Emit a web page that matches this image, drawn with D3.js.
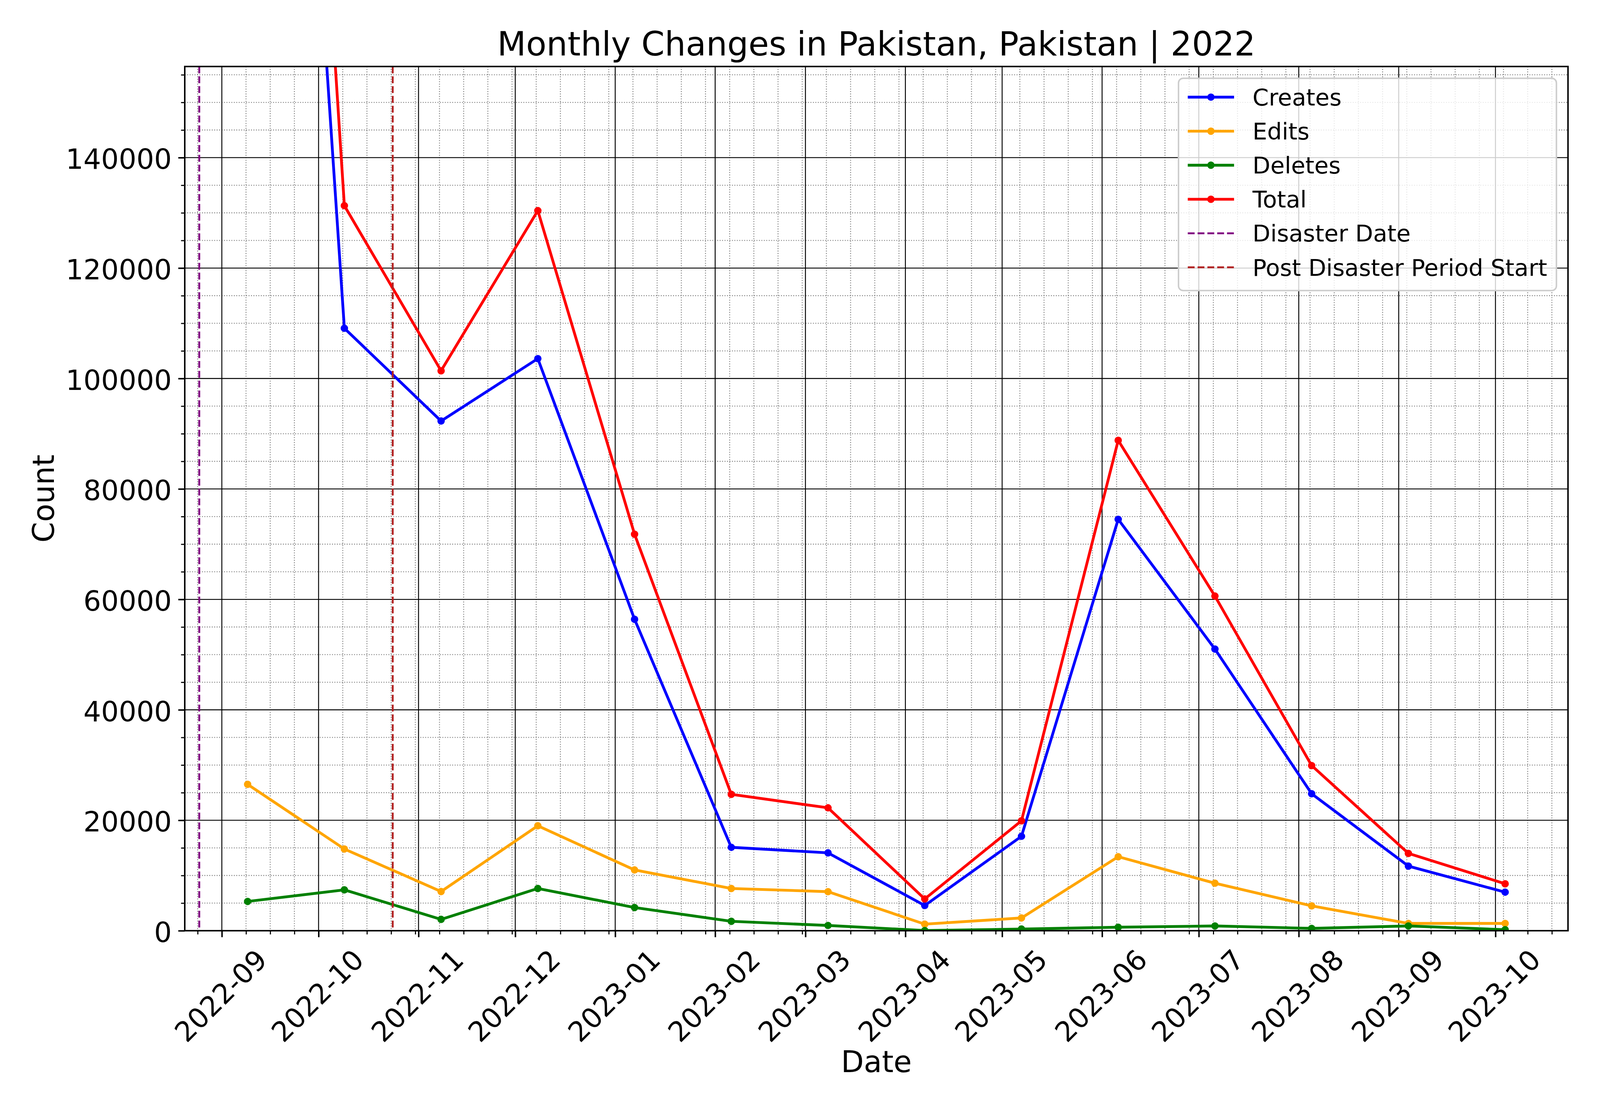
<!DOCTYPE html>
<html>
<head>
<meta charset="utf-8">
<script src="https://cdn.jsdelivr.net/npm/d3@7"></script>
<style>
  html, body { margin: 0; padding: 0; background: #fff; overflow: hidden; width: 100%; height: 100%; }
  #chart { display: block; width: 100vw; height: 100vh; }
  svg text { font-family: 'DejaVu Sans', sans-serif; fill: #000; }
</style>
</head>
<body>
<svg id="chart"></svg>
<script>
// data points, one every 30 days
const dates = ['2022-09-09', '2022-10-09', '2022-11-08', '2022-12-08', '2023-01-07', '2023-02-06', '2023-03-08',
  '2023-04-07', '2023-05-07', '2023-06-06', '2023-07-06', '2023-08-05', '2023-09-04', '2023-10-04'];
const creates = [370000, 109100, 92300, 103600, 56400, 15100, 14100, 4560, 17100, 74500, 51000, 24800, 11700, 6980];
const edits = [26500, 14800, 7100, 19000, 11000, 7650, 7070, 1190, 2310, 13400, 8600, 4500, 1320, 1320];
const deletes = [5300, 7400, 2050, 7650, 4200, 1700, 950, 30, 300, 630, 860, 420, 860, 190];
const totals = [401800, 131300, 101400, 130400, 71800, 24700, 22250, 5750, 19900, 88800, 60600, 29900, 14000, 8500];

const seriesNames = ['Creates', 'Edits', 'Deletes', 'Total'];
const markerNames = ['Disaster Date', 'Post Disaster Period Start'];
const markerDates = ['2022-08-25', '2022-10-24'];

const xTickLabels = ['2022-09', '2022-10', '2022-11', '2022-12', '2023-01', '2023-02', '2023-03',
  '2023-04', '2023-05', '2023-06', '2023-07', '2023-08', '2023-09', '2023-10'];
const yTicks = [0, 20000, 40000, 60000, 80000, 100000, 120000, 140000];
const yMax = 156500;

const titleText = 'Monthly Changes in Pakistan, Pakistan | 2022';

// ---- layout (px, figure is 12x8 in at 350 dpi, 1pt = 350/72 px)
const pt = 350 / 72;
const svgWidth = 4200, svgHeight = 2800;
const margin = { top: 139, right: 84, bottom: 393, left: 485 };
const width = svgWidth - margin.left - margin.right,
  height = svgHeight - margin.top - margin.bottom;

const parseDay = d3.utcParse('%Y-%m-%d');
const parseMonth = d3.utcParse('%Y-%m');

const colors = ['blue', 'orange', 'green', 'red'];
const markerColors = ['purple', 'firebrick'];
const valueLists = [creates, edits, deletes, totals];

const series = seriesNames.map((name, i) => ({
  name: name,
  color: colors[i],
  points: dates.map((d, j) => ({ date: parseDay(d), value: valueLists[i][j] }))
}));

// x domain: data extent plus 5% each side
const t0 = parseDay(dates[0]), t1 = parseDay(dates[dates.length - 1]);
const pad = (t1 - t0) * 0.05;
const x = d3.scaleUtc()
  .domain([new Date(+t0 - pad), new Date(+t1 + pad)])
  .range([0, width]);
const y = d3.scaleLinear().domain([0, yMax]).range([height, 0]);

const majorX = xTickLabels.map(parseMonth);

// minor ticks: quarter of the first major step, as matplotlib's AutoMinorLocator
const minorStep = (majorX[1] - majorX[0]) / 4;
const minorX = [];
const kStart = Math.ceil((x.domain()[0] - majorX[0]) / minorStep);
const kEnd = Math.floor((x.domain()[1] - majorX[0]) / minorStep);
for (let k = kStart; k <= kEnd; k++) {
  const t = new Date(+majorX[0] + k * minorStep);
  if (!majorX.some(m => +m === +t)) minorX.push(t);
}
const yStep = yTicks[1] - yTicks[0];
const minorY = d3.range(yStep / 4, yMax, yStep / 4).filter(v => v % yStep !== 0);

// scale the whole figure into whatever the window gives us
let svg = d3.select('#chart')
  .attr('viewBox', '0 0 ' + svgWidth + ' ' + svgHeight)
  .attr('preserveAspectRatio', 'xMidYMid meet');

svg.append('rect')
  .attr('width', svgWidth)
  .attr('height', svgHeight)
  .attr('fill', '#fff');

svg.append('defs').append('clipPath')
  .attr('id', 'plot-clip')
  .append('rect')
  .attr('width', width)
  .attr('height', height);

const g = svg.append('g')
  .attr('transform', 'translate(' + margin.left + ',' + margin.top + ')');

// grid: minor dotted, major solid
const grid = g.append('g').attr('clip-path', 'url(#plot-clip)');
const minorGrid = { stroke: '#808080', 'stroke-width': 0.5 * pt, 'stroke-dasharray': (0.5 * pt) + ',' + (0.825 * pt) };

grid.selectAll('.minor-x').data(minorX).enter().append('line')
  .attr('x1', d => x(d)).attr('x2', d => x(d))
  .attr('y1', 0).attr('y2', height)
  .attr('stroke', minorGrid.stroke)
  .attr('stroke-width', minorGrid['stroke-width'])
  .attr('stroke-dasharray', minorGrid['stroke-dasharray']);

grid.selectAll('.minor-y').data(minorY).enter().append('line')
  .attr('x1', 0).attr('x2', width)
  .attr('y1', d => y(d)).attr('y2', d => y(d))
  .attr('stroke', minorGrid.stroke)
  .attr('stroke-width', minorGrid['stroke-width'])
  .attr('stroke-dasharray', minorGrid['stroke-dasharray']);

grid.selectAll('.major-x').data(majorX).enter().append('line')
  .attr('x1', d => x(d)).attr('x2', d => x(d))
  .attr('y1', 0).attr('y2', height)
  .attr('stroke', '#000')
  .attr('stroke-width', 0.5 * pt);

grid.selectAll('.major-y').data(yTicks).enter().append('line')
  .attr('x1', 0).attr('x2', width)
  .attr('y1', d => y(d)).attr('y2', d => y(d))
  .attr('stroke', '#000')
  .attr('stroke-width', 0.5 * pt);

// data lines
const plot = g.append('g').attr('clip-path', 'url(#plot-clip)');
const line = d3.line().x(d => x(d.date)).y(d => y(d.value));

series.forEach(s => {
  plot.append('path')
    .datum(s.points)
    .attr('d', line)
    .attr('fill', 'none')
    .attr('stroke', s.color)
    .attr('stroke-width', 1.5 * pt)
    .attr('stroke-linejoin', 'round')
    .attr('stroke-linecap', 'square');

  plot.selectAll(null)
    .data(s.points)
    .enter()
    .append('circle')
    .attr('cx', d => x(d.date))
    .attr('cy', d => y(d.value))
    .attr('r', 2 * pt)
    .attr('fill', s.color);
});

// disaster markers
markerDates.forEach((d, i) => {
  plot.append('line')
    .attr('x1', x(parseDay(d))).attr('x2', x(parseDay(d)))
    .attr('y1', 0).attr('y2', height)
    .attr('stroke', markerColors[i])
    .attr('stroke-width', 1 * pt)
    .attr('stroke-dasharray', (3.7 * pt) + ',' + (1.6 * pt));
});

// axes
const tickFont = 15 * pt;

const xAxis = g.append('g')
  .attr('transform', 'translate(0,' + height + ')')
  .call(d3.axisBottom(x).tickValues(majorX).tickSize(3.5 * pt).tickPadding(3.5 * pt)
    .tickFormat(d3.utcFormat('%Y-%m')));
xAxis.select('.domain').remove();
xAxis.selectAll('.tick line').attr('stroke-width', 0.8 * pt);
xAxis.selectAll('.tick text')
  .attr('font-size', tickFont)
  .attr('y', null)
  .attr('dy', null)
  .attr('dominant-baseline', 'central')
  .attr('text-anchor', 'middle')
  .attr('transform', 'translate(-3,171) rotate(-45)');

const xMinor = g.append('g')
  .attr('transform', 'translate(0,' + height + ')')
  .call(d3.axisBottom(x).tickValues(minorX).tickSize(2 * pt).tickFormat(''));
xMinor.select('.domain').remove();
xMinor.selectAll('.tick line').attr('stroke-width', 0.6 * pt);

const yAxis = g.append('g')
  .call(d3.axisLeft(y).tickValues(yTicks).tickSize(3.5 * pt).tickPadding(3.5 * pt)
    .tickFormat(d3.format('d')));
yAxis.select('.domain').remove();
yAxis.selectAll('.tick line').attr('stroke-width', 0.8 * pt);
yAxis.selectAll('.tick text')
  .attr('font-size', tickFont)
  .attr('dy', '0.4em');

const yMinor = g.append('g')
  .call(d3.axisLeft(y).tickValues(minorY).tickSize(2 * pt).tickFormat(''));
yMinor.select('.domain').remove();
yMinor.selectAll('.tick line').attr('stroke-width', 0.6 * pt);

[xAxis, xMinor, yAxis, yMinor].forEach(a => a.attr('font-family', null));

// frame
g.append('rect')
  .attr('width', width)
  .attr('height', height)
  .attr('fill', 'none')
  .attr('stroke', '#000')
  .attr('stroke-width', 0.8 * pt);

// labels
svg.append('text')
  .text(titleText)
  .attr('x', margin.left + width / 2)
  .attr('y', 110)
  .attr('text-anchor', 'middle')
  .attr('font-size', 18 * pt);

svg.append('text')
  .text('Date')
  .attr('x', margin.left + width / 2)
  .attr('y', 2778)
  .attr('text-anchor', 'middle')
  .attr('font-size', 16 * pt);

svg.append('text')
  .text('Count')
  .attr('transform', 'translate(142,' + (margin.top + height / 2) + ') rotate(-90)')
  .attr('text-anchor', 'middle')
  .attr('font-size', 16 * pt);

// legend, upper right
const legFont = 12.5 * pt;
const legendItems = series.map(s => ({ name: s.name, color: s.color, dashed: false }))
  .concat(markerNames.map((n, i) => ({ name: n, color: markerColors[i], dashed: true })));

const legend = g.append('g');
const legBox = legend.append('rect');
const rowH = 1.47 * legFont;
const handleLen = 2 * legFont, borderPad = 0.4 * legFont, textPad = 0.8 * legFont;

const rows = legend.selectAll('.row')
  .data(legendItems)
  .enter()
  .append('g')
  .attr('transform', (d, i) => 'translate(0,' + (i * rowH) + ')');

const labels = rows.append('text')
  .text(d => d.name)
  .attr('x', borderPad + handleLen + textPad)
  .attr('dy', '0.36em')
  .attr('font-size', legFont);

let maxW = 0;
labels.each(function () { maxW = Math.max(maxW, this.getComputedTextLength()); });

rows.append('line')
  .attr('x1', borderPad).attr('x2', borderPad + handleLen)
  .attr('stroke', d => d.color)
  .attr('stroke-width', d => d.dashed ? 1 * pt : 1.5 * pt)
  .attr('stroke-dasharray', d => d.dashed ? (3.7 * pt) + ',' + (1.6 * pt) : null);

rows.filter(d => !d.dashed).append('circle')
  .attr('cx', borderPad + handleLen / 2)
  .attr('r', 2 * pt)
  .attr('fill', d => d.color);

const boxW = borderPad + handleLen + textPad + maxW + borderPad;
const boxH = 727 - 170;
const boxLeft = width - 0.5 * legFont - boxW;
legend.attr('transform', 'translate(' + boxLeft + ',' + (219.4 - margin.top) + ')');
legBox
  .attr('x', 0)
  .attr('y', 170 - 219.4)
  .attr('width', boxW)
  .attr('height', boxH)
  .attr('rx', 0.2 * legFont)
  .attr('fill', '#fff')
  .attr('fill-opacity', 0.8)
  .attr('stroke', '#cccccc')
  .attr('stroke-width', 0.8 * pt);
</script>
</body>
</html>
